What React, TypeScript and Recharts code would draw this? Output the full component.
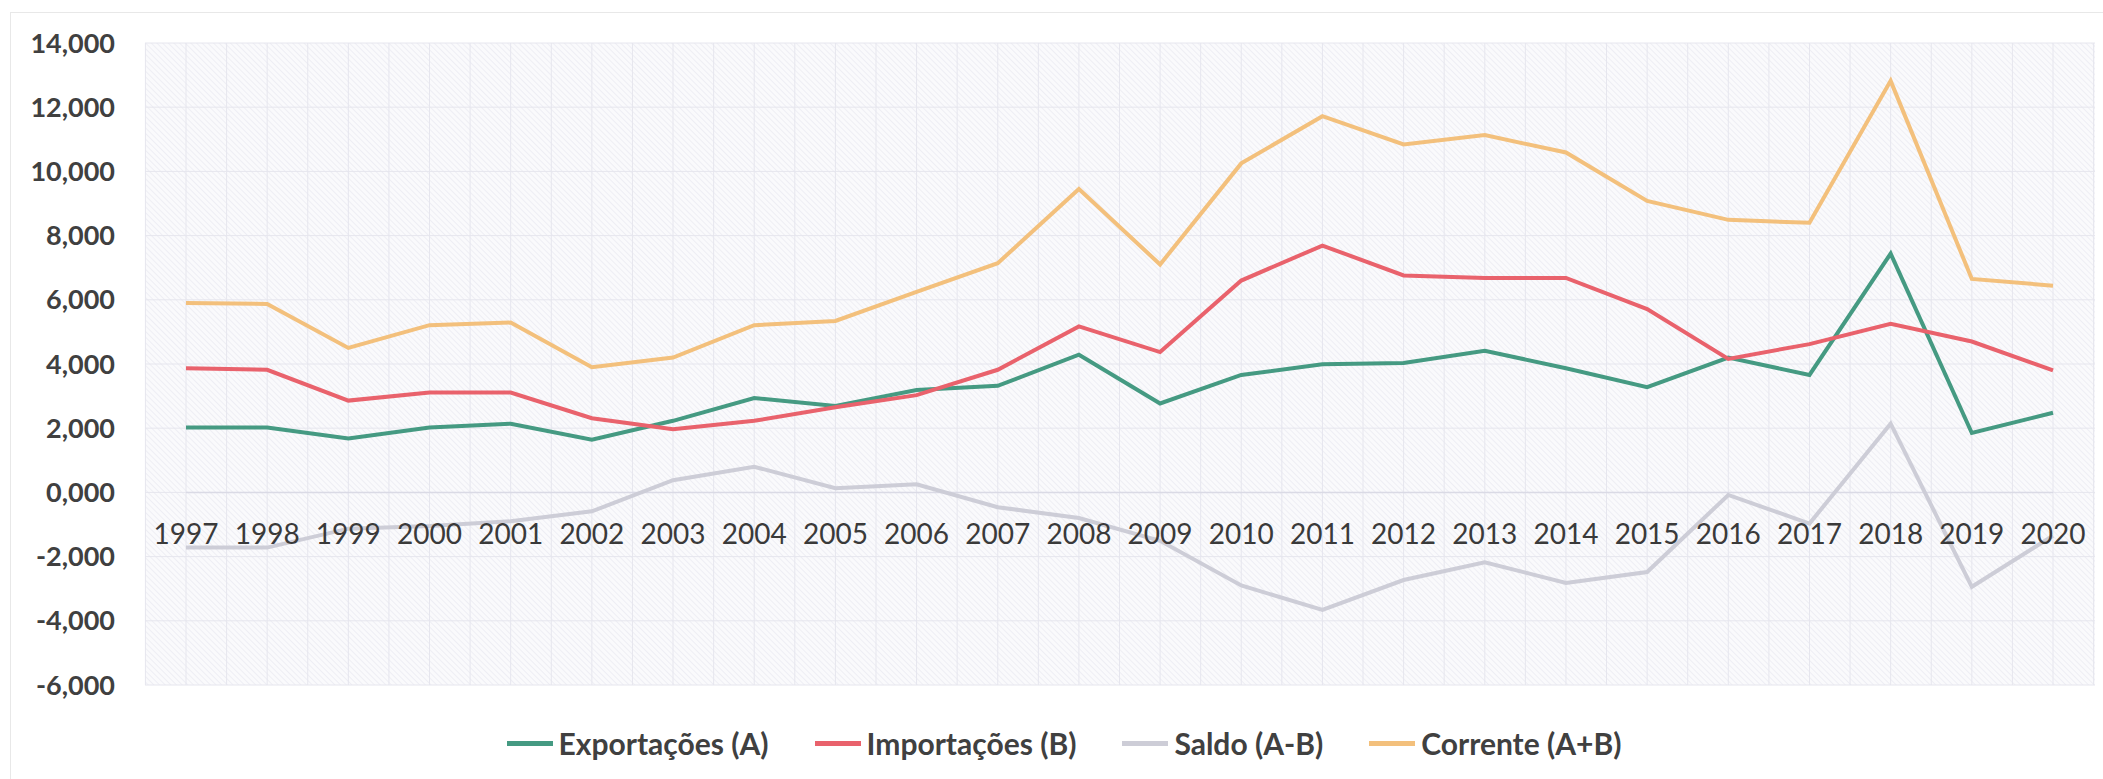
import { LineChart, Line, XAxis, YAxis, CartesianGrid, LabelList } from "recharts";

const years = ["1997", "1998", "1999", "2000", "2001", "2002", "2003", "2004", "2005", "2006", "2007", "2008", "2009", "2010", "2011", "2012", "2013", "2014", "2015", "2016", "2017", "2018", "2019", "2020"];
const exportacoes = [2020, 2020, 1680, 2020, 2140, 1640, 2230, 2940, 2690, 3190, 3320, 4290, 2770, 3660, 3990, 4030, 4410, 3870, 3280, 4200, 3660, 7440, 1850, 2480];
const importacoes = [3870, 3820, 2860, 3110, 3110, 2310, 1970, 2230, 2650, 3030, 3820, 5170, 4370, 6600, 7690, 6760, 6680, 6680, 5710, 4160, 4620, 5250, 4700, 3800];
const saldo = [-1720, -1720, -1130, -1050, -900, -590, 380, 800, 130, 250, -460, -800, -1510, -2900, -3660, -2730, -2180, -2820, -2480, -80, -970, 2140, -2940, -1350];
const corrente = [5900, 5870, 4500, 5210, 5290, 3900, 4200, 5210, 5340, 6250, 7140, 9450, 7100, 10250, 11720, 10840, 11130, 10590, 9080, 8490, 8400, 12820, 6650, 6440];
const yTicks = [-6000, -4000, -2000, 0, 2000, 4000, 6000, 8000, 10000, 12000, 14000];

const SERIES = [
  { key: "exp", name: "Exportações (A)", color: "#459a82" },
  { key: "imp", name: "Importações (B)", color: "#e9626c" },
  { key: "saldo", name: "Saldo (A-B)", color: "#cdcdd7" },
  { key: "corr", name: "Corrente (A+B)", color: "#f3c07c" },
];

const data = years.map((year, i) => ({
  year,
  axis: 0,
  exp: exportacoes[i],
  imp: importacoes[i],
  saldo: saldo[i],
  corr: corrente[i],
}));

const FONT = "Lato, 'Open Sans', sans-serif";
const PAD = { left: 41, right: 42 };

// excel style: 2,000 / 0,000 / -4,000
const fmt = (v: number) => {
  const a = Math.abs(v);
  return `${v < 0 ? "-" : ""}${Math.floor(a / 1000)},${String(a % 1000).padStart(3, "0")}`;
};

// gridlines on each category and halfway between them
const verticalGrid = (props: any) => {
  const off = props?.offset;
  if (!off) return [];
  const n = years.length;
  const start = off.left + PAD.left;
  const step = (off.width - PAD.left - PAD.right) / (n - 1);
  const out: number[] = [];
  for (let i = 0; i < n; i++) {
    out.push(start + i * step);
    out.push(start + (i - 0.5) * step);
  }
  out.push(start + (n - 0.5) * step);
  return out;
};

export default function App() {
  return (
    <div style={{ position: "absolute", left: 0, top: 0, width: 2103, height: 779, background: "#fff", fontFamily: FONT, overflow: "hidden" }}>
      <svg width={0} height={0} style={{ position: "absolute" }}>
        <defs>
          <pattern id="hatch" width={4} height={4} patternUnits="userSpaceOnUse" patternTransform="rotate(-45)">
            <rect width={4} height={4} fill="#fafafc" />
            <line x1={0} y1={0} x2={0} y2={4} stroke="#ebebf2" strokeWidth={1.5} />
          </pattern>
        </defs>
      </svg>
      <div style={{ position: "absolute", left: 10, top: 12, width: 2120, height: 800, borderLeft: "1px solid #e8e8e8", borderTop: "1px solid #e8e8e8" }} />
      <LineChart width={2103} height={779} data={data} margin={{ top: 43, right: 8, bottom: 94, left: 0 }}>
        <CartesianGrid stroke="#e6e6ee" fill="url(#hatch)" fillOpacity={1} verticalCoordinatesGenerator={verticalGrid} />
        <XAxis dataKey="year" hide padding={PAD} />
        <YAxis
          width={145}
          domain={[-6000, 14000]}
          ticks={yTicks}
          tickFormatter={fmt}
          axisLine={false}
          tickLine={false}
          tickSize={0}
          tickMargin={30}
          tick={{ fill: "#404040", fontSize: 27, fontWeight: 700, fontFamily: FONT }}
        />
        <Line dataKey="axis" stroke="#dadae5" strokeWidth={1.5} dot={false} isAnimationActive={false} legendType="none">
          <LabelList dataKey="year" position="bottom" offset={32} fill="#3a3a3a" fontSize={28} fontFamily={FONT} />
        </Line>
        {SERIES.map((s) => (
          <Line key={s.key} dataKey={s.key} name={s.name} stroke={s.color} strokeWidth={4} dot={false} isAnimationActive={false} />
        ))}
      </LineChart>
      <div style={{ position: "absolute", left: 0, width: 2128, top: 724, height: 38, display: "flex", justifyContent: "center", alignItems: "center", gap: 46 }}>
        {SERIES.map((s) => (
          <div key={s.key} style={{ display: "flex", alignItems: "center", gap: 6 }}>
            <span style={{ width: 46, height: 5, background: s.color, display: "inline-block" }} />
            <span style={{ fontSize: 30, fontWeight: 700, color: "#404040" }}>{s.name}</span>
          </div>
        ))}
      </div>
    </div>
  );
}
